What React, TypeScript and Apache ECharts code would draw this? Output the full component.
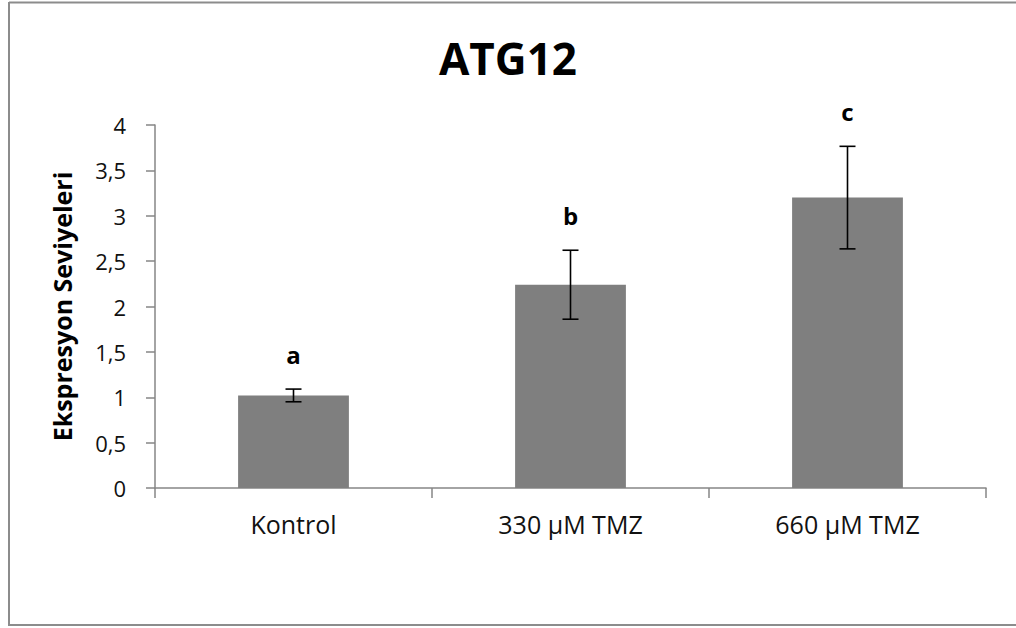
import React, { useEffect, useRef } from "react";
import * as echarts from "echarts";

const categories = ["Kontrol", "330 µM TMZ", "660 µM TMZ"];
const means = [1.02, 2.24, 3.2];
const errors = [0.07, 0.38, 0.565];
const letters = ["a", "b", "c"];
const titleText = "ATG12";
const yName = "Ekspresyon Seviyeleri";

const FONT = '"Open Sans", sans-serif';

export default function App() {
  const ref = useRef<HTMLDivElement>(null);
  useEffect(() => {
    if (!ref.current) return;
    const chart = echarts.init(ref.current, null, { renderer: "svg" });
    const errData = means.map((m, i) => [i, m, errors[i]]);
    chart.setOption({
      animation: false,
      backgroundColor: "#fff",
      title: {
        text: titleText,
        left: "center",
        top: 31,
        textStyle: { fontFamily: FONT, fontWeight: "bold", fontSize: 44, color: "#000" },
      },
      grid: { left: 155, right: 30, top: 125, bottom: 140, containLabel: false },
      xAxis: {
        type: "category",
        data: categories,
        boundaryGap: true,
        axisLine: { show: true, lineStyle: { color: "#868686", width: 1.5 } },
        axisTick: { show: true, length: 10, lineStyle: { color: "#868686", width: 1.5 } },
        axisLabel: { margin: 23, fontFamily: FONT, fontSize: 25, color: "#111" },
        splitLine: { show: false },
      },
      yAxis: {
        type: "value",
        min: 0,
        max: 4,
        interval: 0.5,
        name: yName,
        nameLocation: "middle",
        nameGap: 81,
        nameRotate: 90,
        nameTextStyle: { fontFamily: FONT, fontWeight: "bold", fontSize: 25, color: "#000" },
        axisLine: { show: true, lineStyle: { color: "#868686", width: 1.5 } },
        axisTick: { show: true, length: 9, lineStyle: { color: "#868686", width: 1.5 } },
        axisLabel: {
          margin: 29,
          fontFamily: FONT,
          fontSize: 22,
          color: "#111",
          formatter: (v: number) => String(v).replace(".", ","),
        },
        splitLine: { show: false },
      },
      series: [
        {
          type: "bar",
          data: means,
          barWidth: "40%",
          itemStyle: { color: "#7f7f7f" },
          z: 2,
        },
        {
          type: "custom",
          data: errData,
          encode: { x: 0, y: 1 },
          z: 3,
          renderItem: (params: any, api: any) => {
            const i = api.value(0);
            const m = api.value(1);
            const e = api.value(2);
            const top = api.coord([i, m + e]);
            const bot = api.coord([i, m - e]);
            const x = top[0];
            const hw = 8;
            const st = { stroke: "#000", lineWidth: 1.6 };
            return {
              type: "group",
              children: [
                { type: "line", shape: { x1: x, y1: top[1], x2: x, y2: bot[1] }, style: st },
                { type: "line", shape: { x1: x - hw, y1: top[1], x2: x + hw, y2: top[1] }, style: st },
                { type: "line", shape: { x1: x - hw, y1: bot[1], x2: x + hw, y2: bot[1] }, style: st },
                {
                  type: "text",
                  style: {
                    text: letters[i],
                    x,
                    y: top[1] - 35,
                    align: "center",
                    verticalAlign: "middle",
                    font: `bold 24px ${FONT}`,
                    fill: "#000",
                  },
                },
              ],
            };
          },
        },
      ],
      graphic: [
        { type: "line", shape: { x1: 9, y1: 2.5, x2: 1016, y2: 2.5 }, style: { stroke: "#8c8c8c", lineWidth: 2 } },
        { type: "line", shape: { x1: 9, y1: 2, x2: 9, y2: 626 }, style: { stroke: "#8c8c8c", lineWidth: 2 } },
        { type: "line", shape: { x1: 9, y1: 625, x2: 1016, y2: 625 }, style: { stroke: "#8c8c8c", lineWidth: 2 } },
      ],
    });
    return () => chart.dispose();
  }, []);
  return (
    <div
      ref={ref}
      style={{ position: "absolute", left: 0, top: 0, width: 1016, height: 628 }}
    />
  );
}
